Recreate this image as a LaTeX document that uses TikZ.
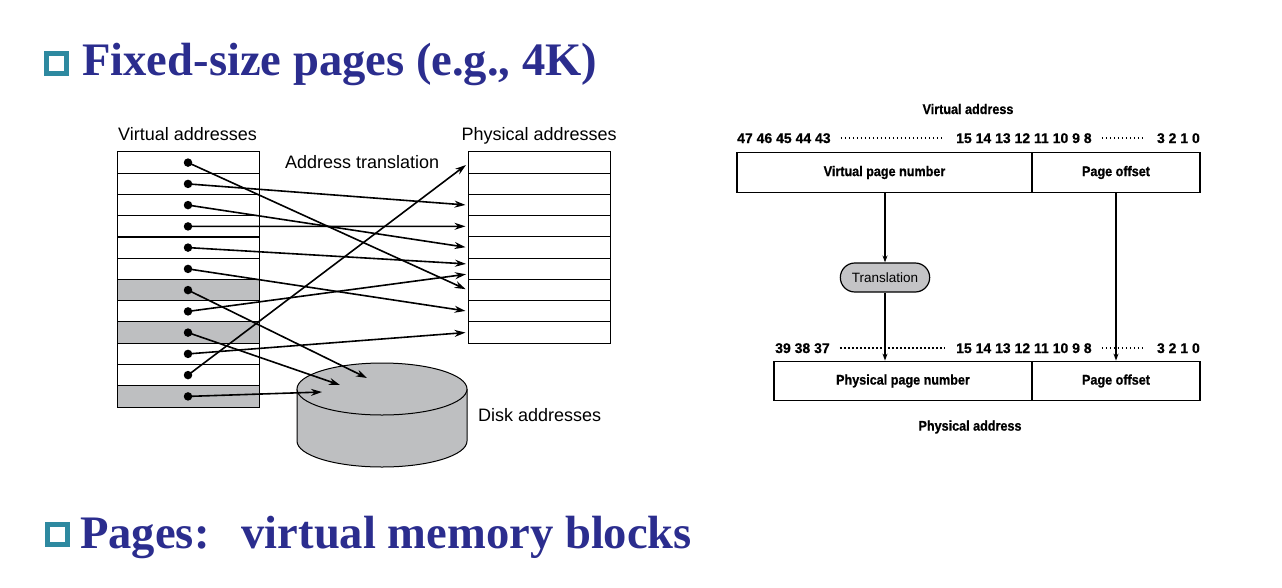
\documentclass[tikz,border=0pt]{standalone}
\usepackage{fontspec}
\setmainfont{Liberation Serif}
\setsansfont{Liberation Sans}
\newfontfamily\figfont{Liberation Sans}[FakeStretch=0.9, BoldFeatures={FakeBold=0.8}]
\newfontfamily\bitfont{Liberation Sans}[BoldFeatures={FakeBold=0.6}]
\usetikzlibrary{arrows.meta,shapes.misc}
\definecolor{titleblue}{RGB}{43,45,142}
\definecolor{bullteal}{RGB}{46,137,160}
\definecolor{pagegray}{RGB}{190,191,193}
\definecolor{transgray}{RGB}{196,196,198}

\tikzset{
  bullet/.style={draw=bullteal, line width=5pt, fill=white, minimum size=20pt, inner sep=0pt},
  headline/.style={anchor=base west, inner sep=0pt, text=titleblue, font=\fontsize{46.6}{50}\selectfont\bfseries},
  pagerow/.style={draw, line width=1pt, minimum width=142pt, minimum height=21.25pt, inner sep=0pt},
  swapped/.style={pagerow, fill=pagegray},
  pagedot/.style={circle, fill, inner sep=0pt, minimum size=8.5pt},
  maparrow/.style={line width=1.6pt, -{Stealth[length=11pt,width=7pt]}},
  lefttext/.style={anchor=base west, inner sep=0pt, font=\sffamily\fontsize{18}{20}\selectfont},
  field/.style={draw, line width=1.3pt, minimum height=39.5pt, inner sep=0pt, font=\figfont\bfseries\fontsize{14}{16}\selectfont},
  bits/.style={anchor=base west, inner sep=0pt, font=\bitfont\bfseries\fontsize{14}{16}\selectfont},
  bitdots/.style={line width=1.6pt, dash pattern=on 1.6pt off 2.4pt, shorten <=10pt, shorten >=12pt},
  bitarrow/.style={line width=1.2pt, -{Stealth[length=7pt,width=5pt]}}
}

\begin{document}
\begin{tikzpicture}[x=1pt, y=-1pt]
  \useasboundingbox (0,0) rectangle (1282,587);

  % Titoli
  \node[bullet] (b1) at (56,63) {};
  \node[headline] (t1) at (82,75) {Fixed-size pages (e.g., 4K)};
  \node[bullet] (b2) at (57.5,534.5) {};
  \node[headline] (t2) at (80,548) {Pages:\hspace{32pt}virtual memory blocks};

  % Pagine virtuali
  \node[lefttext] (lv) at (118,140) {Virtual addresses};
  \node[pagerow] (v0) at (188,162.6) {};
  \node[pagerow] (v1) at (188,183.9) {};
  \node[pagerow] (v2) at (188,205.1) {};
  \node[pagerow] (v3) at (188,226.4) {};
  \node[pagerow] (v4) at (188,247.6) {};
  \node[pagerow] (v5) at (188,268.9) {};
  \node[swapped] (v6) at (188,290.1) {};
  \node[pagerow] (v7) at (188,311.4) {};
  \node[swapped] (v8) at (188,332.6) {};
  \node[pagerow] (v9) at (188,353.9) {};
  \node[pagerow] (v10) at (188,375.1) {};
  \node[swapped] (v11) at (188,396.4) {};

  % Pagine fisiche
  \node[lefttext] (lp) at (461.5,140) {Physical addresses};
  \node[lefttext] (lt) at (285,168) {Address translation};
  \node[pagerow] (p0) at (539,162.6) {};
  \node[pagerow] (p1) at (539,183.8) {};
  \node[pagerow] (p2) at (539,205.1) {};
  \node[pagerow] (p3) at (539,226.3) {};
  \node[pagerow] (p4) at (539,247.5) {};
  \node[pagerow] (p5) at (539,268.7) {};
  \node[pagerow] (p6) at (539,290.0) {};
  \node[pagerow] (p7) at (539,311.2) {};
  \node[pagerow] (p8) at (539,332.4) {};

  % Disco
  \fill[pagegray] (297,389) rectangle (467,441);
  \fill[pagegray] (382,441) ellipse [x radius=85, y radius=26];
  \draw[line width=1pt] (297,389) -- (297,441) arc [start angle=180, end angle=0, x radius=85, y radius=26] -- (467,389);
  \draw[line width=1pt, fill=pagegray] (382,389) ellipse [x radius=85, y radius=26];
  \node[lefttext] (ld) at (478,421.5) {Disk addresses};
  \coordinate (d0) at (367,378);
  \coordinate (d1) at (340,385);
  \coordinate (d2) at (322,392);
  \coordinate (q0) at (466,165);
  \coordinate (q5a) at (468,264);
  \coordinate (q5b) at (468,274);

  % Punti
  \foreach \i in {0,...,11}
    \node[pagedot] (vd\i) at (v\i.center) {};

  % Archi
  \draw[maparrow, shorten >=2pt] (vd0.center) -- (p6.west);
  \draw[maparrow, shorten >=2pt] (vd1.center) -- (p2.west);
  \draw[maparrow, shorten >=2pt] (vd2.center) -- (p4.west);
  \draw[maparrow, shorten >=2pt] (vd3.center) -- (p3.west);
  \draw[maparrow, shorten >=2pt] (vd4.center) -- (q5a);
  \draw[maparrow, shorten >=2pt] (vd5.center) -- (p7.west);
  \draw[maparrow] (vd6.center) -- (d0);
  \draw[maparrow, shorten >=2pt] (vd7.center) -- (q5b);
  \draw[maparrow] (vd8.center) -- (d1);
  \draw[maparrow, shorten >=2pt] (vd9.center) -- (p8.west);
  \draw[maparrow] (vd10.center) -- (q0);
  \draw[maparrow] (vd11.center) -- (d2);

  % Indirizzo virtuale
  \node[font=\figfont\bfseries\fontsize{14}{16}\selectfont] (hv) at (968,109) {Virtual address};
  \node[bits] (n47) at (737,143) {47 46 45 44 43};
  \node[bits] (n15) at (956,143) {15 14 13 12 11 10 9 8};
  \node[bits, anchor=base east] (n3) at (1200,143) {3 2 1 0};
  \draw[bitdots] (n47.east) -- (n15.west);
  \draw[bitdots] (n15.east) -- (n3.west);
  \node[field, minimum width=295pt] (vpn) at (884.5,172.5) {Virtual page number};
  \node[field, minimum width=168pt] (vpo) at (1116,172.5) {Page offset};

  % Traduzione
  \node[rounded rectangle, draw, line width=1.2pt, fill=transgray, minimum width=96pt, minimum height=29pt,
        font=\sffamily\fontsize{13.5}{15}\selectfont] (trans) at (885,277.5) {Translation};

  % Indirizzo fisico
  \node[bits] (n39) at (775,353) {39 38 37};
  \node[bits] (m15) at (956,353) {15 14 13 12 11 10 9 8};
  \node[bits, anchor=base east] (m3) at (1200,353) {3 2 1 0};
  \draw[bitdots] (n39.east) -- (m15.west);
  \draw[bitdots] (m15.east) -- (m3.west);
  \node[field, minimum width=258pt] (ppn) at (903,381) {Physical page number};
  \node[field, minimum width=168pt] (ppo) at (1116,381) {Page offset};
  \node[font=\figfont\bfseries\fontsize{14}{16}\selectfont] (hp) at (970,427) {Physical address};

  \draw[bitarrow] (vpn.south -| trans.north) -- (trans.north);
  \draw[bitarrow] (trans.south) -- (trans.south |- ppn.north);
  \draw[bitarrow] (vpo.south) -- (ppo.north);
\end{tikzpicture}
\end{document}
